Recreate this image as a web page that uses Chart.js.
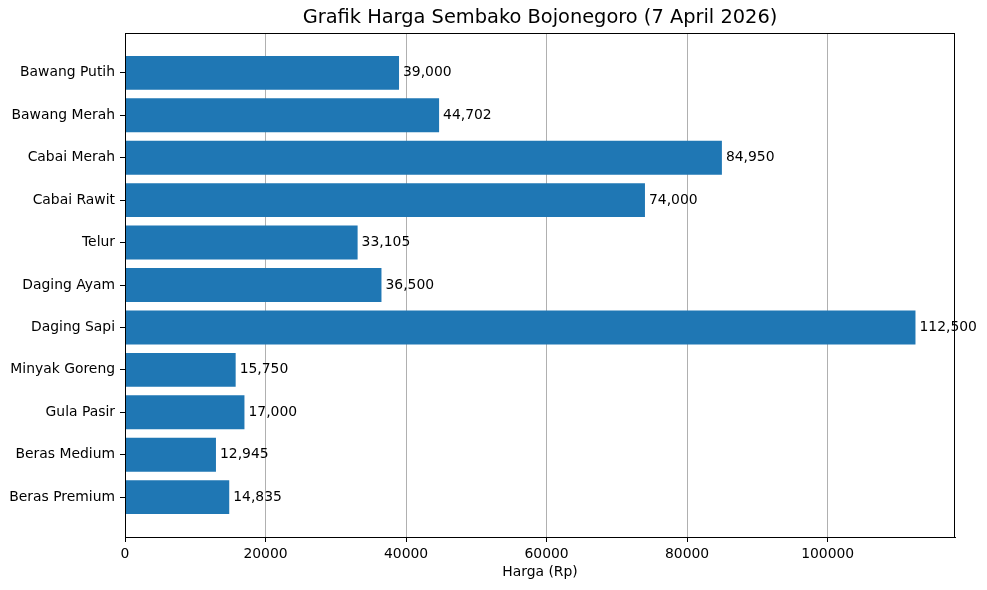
<!DOCTYPE html>
<html lang="id">
<head>
    <meta charset="UTF-8">
    <title>Grafik Harga Sembako Bojonegoro</title>
    <style>
        body { margin: 0; background: #fff; }
        #wrap { width: 987px; height: 590px; }
    </style>
    <script src="https://cdn.jsdelivr.net/npm/chart.js"></script>
</head>
<body>
    <div id="wrap"><canvas id="hargaChart"></canvas></div>

    <script>
        // bottom to top, like the original plot
        const komoditas = ['Beras Premium', 'Beras Medium', 'Gula Pasir', 'Minyak Goreng', 'Daging Sapi',
            'Daging Ayam', 'Telur', 'Cabai Rawit', 'Cabai Merah', 'Bawang Merah', 'Bawang Putih'];
        const harga = [14835, 12945, 17000, 15750, 112500, 36500, 33105, 74000, 84950, 44702, 39000];
        const xTicks = [0, 20000, 40000, 60000, 80000, 100000];
        const judul = 'Grafik Harga Sembako Bojonegoro (7 April 2026)';

        const fontFamily = '"DejaVu Sans", sans-serif';
        const barColor = '#1f77b4';
        const tickFont = 13.9;

        // matplotlib-like limits: 5% margin
        const xMax = Math.max(...harga) * 1.05;
        const yMin = -0.4 - 0.05 * (komoditas.length - 1 + 0.8);
        const yMax = komoditas.length - 1 + 0.4 + 0.05 * (komoditas.length - 1 + 0.8);

        // value text at the end of each bar
        const barLabels = {
            id: 'barLabels',
            afterDatasetsDraw(chart) {
                const ctx = chart.ctx;
                const meta = chart.getDatasetMeta(0);
                ctx.save();
                ctx.font = tickFont + 'px ' + fontFamily;
                ctx.fillStyle = '#000';
                ctx.textAlign = 'left';
                ctx.textBaseline = 'middle';
                meta.data.forEach((bar, i) => {
                    ctx.fillText(harga[i].toLocaleString('en-US'), bar.x + 4, bar.y);
                });
                ctx.restore();
            }
        };

        // full box around plot area (spines) + title centred over the axes
        const frame = {
            id: 'frame',
            afterDraw(chart) {
                const a = chart.chartArea;
                const ctx = chart.ctx;
                ctx.save();
                ctx.strokeStyle = '#000';
                ctx.lineWidth = 1;
                ctx.strokeRect(a.left + 0.5, a.top + 0.5, a.right - a.left - 1, a.bottom - a.top);
                ctx.font = '19.4px ' + fontFamily;
                ctx.fillStyle = '#000';
                ctx.textAlign = 'center';
                ctx.textBaseline = 'middle';
                ctx.fillText(judul, (a.left + a.right) / 2, a.top - 15);
                ctx.restore();
            }
        };

        new Chart(document.getElementById('hargaChart'), {
            type: 'bar',
            data: {
                datasets: [{
                    data: harga.map((v, i) => ({ x: v, y: i })),
                    backgroundColor: barColor,
                    borderWidth: 0,
                    barPercentage: 0.8,
                    categoryPercentage: 1
                }]
            },
            options: {
                indexAxis: 'y',
                responsive: true,
                maintainAspectRatio: false,
                animation: false,
                layout: { padding: { left: 0, right: 32, top: 33, bottom: 0 } },
                plugins: {
                    legend: { display: false },
                    tooltip: { enabled: false },
                    title: { display: false }
                },
                scales: {
                    x: {
                        type: 'linear',
                        min: 0,
                        max: xMax,
                        afterBuildTicks: s => { s.ticks = xTicks.map(v => ({ value: v })); },
                        afterFit: s => { s.height = 53; },
                        ticks: {
                            color: '#000',
                            font: { family: fontFamily, size: tickFont },
                            padding: 4,
                            maxRotation: 0,
                            callback: v => String(v)
                        },
                        grid: { color: '#b0b0b0', tickColor: '#000', tickLength: 5, lineWidth: 1 },
                        border: { display: true, color: '#000' },
                        title: {
                            display: true,
                            text: 'Harga (Rp)',
                            color: '#000',
                            font: { family: fontFamily, size: tickFont },
                            padding: { top: 4, bottom: 9.7 }
                        }
                    },
                    y: {
                        type: 'linear',
                        offset: false,
                        min: yMin,
                        max: yMax,
                        afterBuildTicks: s => { s.ticks = komoditas.map((k, i) => ({ value: i })); },
                        afterFit: s => { s.width = 125; },
                        ticks: {
                            color: '#000',
                            font: { family: fontFamily, size: tickFont },
                            padding: 5,
                            callback: v => komoditas[v]
                        },
                        grid: { offset: false, drawOnChartArea: false, tickColor: '#000', tickLength: 5 },
                        border: { display: true, color: '#000' }
                    }
                }
            },
            plugins: [barLabels, frame]
        });
    </script>
</body>
</html>
